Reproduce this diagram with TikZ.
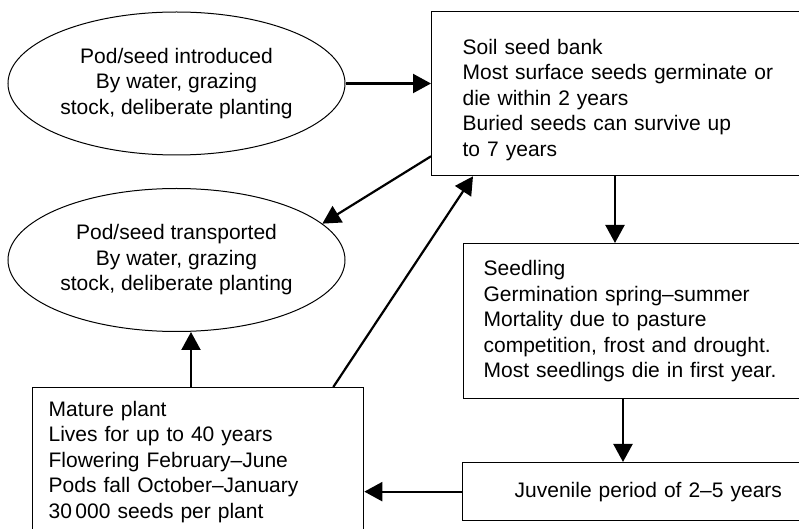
\documentclass[tikz,border=0pt]{standalone}
\usepackage{fontspec}
\setmainfont{Liberation Sans}
\usetikzlibrary{arrows.meta,shapes.geometric}
\begin{document}
\begin{tikzpicture}[x=0.5pt, y=-0.5pt,
      every node/.style={font=\fontsize{10.5}{12.75}\selectfont},
      pod/.style={draw, ellipse, line width=0.5pt, minimum width=168.5pt,
        minimum height=71.5pt, inner sep=0pt, align=center},
      stage/.style={draw, rectangle, line width=0.65pt, anchor=north west,
        align=left, inner ysep=0pt},
      flow/.style={line width=1.1pt, -{Triangle[length=9pt, width=9.5pt]}},]
      \useasboundingbox (0,0) rectangle (799,529);
      \node[pod] (intro) at (176.5,83.5)
        {Pod/seed introduced\\By water, grazing\\stock, deliberate planting};
      \node[pod] (trans) at (176.5,260)
        {Pod/seed transported\\By water, grazing\\stock, deliberate planting};
      \node[stage, inner xsep=15.5pt, text width=168.5pt, minimum height=82pt] (soil) at (431,11)
        {\rule{0pt}{13.7pt}Soil seed bank\\Most surface seeds germinate or\\die within 2 years\\Buried seeds can survive up\\to 7 years};
      \node[stage, inner xsep=10pt, text width=163.5pt, minimum height=77.5pt] (seedling) at (463,243)
        {Seedling\\Germination spring–summer\\Mortality due to pasture\\competition, frost and drought.\\Most seedlings die in first year.};
      \node[stage, inner xsep=26pt, text width=147pt, minimum height=29pt] (juvenile) at (462,462)
        {Juvenile period of 2–5 years};
      \node[stage, inner xsep=8pt, text width=149.5pt, minimum height=74pt] (mature) at (32,387)
        {Mature plant\\Lives for up to 40 years\\Flowering February–June\\Pods fall October–January\\30\,000 seeds per plant};
      \draw[flow] (intro.east) -- (intro.east -| soil.west);
      \draw[flow] ([yshift=10pt]soil.south west) -- (trans.14.5);
      \draw[flow] ([xshift=92pt]soil.south west) -- ([xshift=92pt]soil.south west |- seedling.north);
      \draw[flow] ([xshift=80pt]seedling.south west) -- ([xshift=80pt]seedling.south west |- juvenile.north);
      \draw[flow] (juvenile.west) -- (juvenile.west -| mature.east);
      \draw[flow] ([xshift=79.5pt]mature.north west) -- ([xshift=79.5pt]mature.north west |- trans.south);
      \draw[flow] ([xshift=-15.5pt]mature.north east) -- ([xshift=21pt]soil.south west);
    \end{tikzpicture}
\end{document}
